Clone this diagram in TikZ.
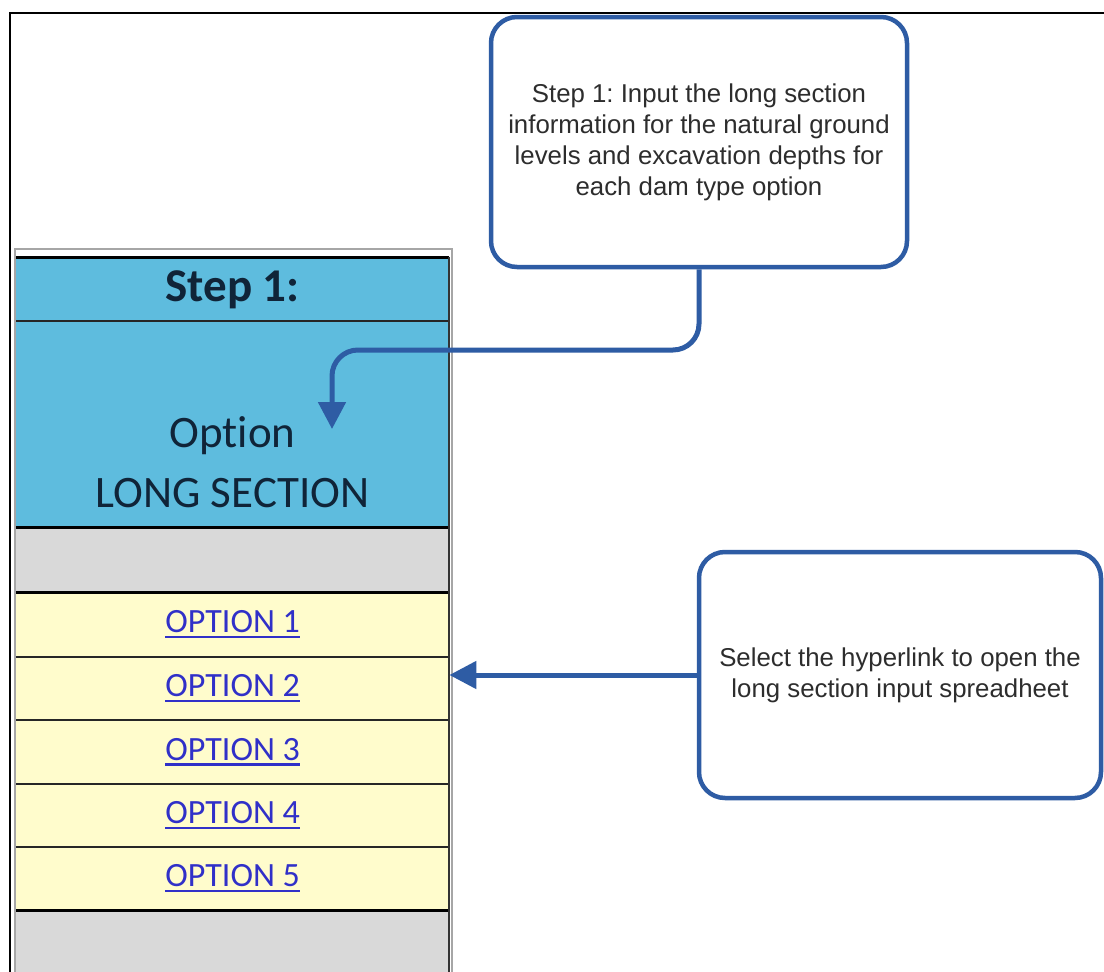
\documentclass[tikz,border=0pt]{standalone}
\usepackage{fontspec}
\setmainfont{Carlito}[Ligatures=NoCommon]
\newfontfamily\arialf{Liberation Sans}
\usetikzlibrary{arrows.meta}
\definecolor{cellblue}{RGB}{94,188,222}
\definecolor{cellgray}{RGB}{217,217,217}
\definecolor{cellyellow}{RGB}{255,252,204}
\definecolor{calloutblue}{RGB}{46,92,164}
\definecolor{linkblue}{RGB}{48,48,200}
\definecolor{celltext}{RGB}{16,36,56}
\definecolor{callouttext}{RGB}{45,45,45}
\frenchspacing
\newcommand{\myhl}[1]{{\setbox0\hbox{#1}\rlap{\color{linkblue}\vrule height -3pt depth 5.5pt width \wd0}\box0}}
\tikzset{
  cell/.style={rectangle, inner sep=0pt, draw=none, minimum width=433, anchor=north west},
  linktext/.style={text=linkblue, font=\fontsize{34}{40}\selectfont},
  callout/.style={rectangle, rounded corners=26, draw=calloutblue, line width=4.5, fill=white,
    text=callouttext, align=center, font=\arialf\fontsize{25.8}{31}\selectfont, inner sep=0pt},
  conn/.style={draw=calloutblue, line width=5, -{Triangle[length=27, width=27]}},
  thickrule/.style={line width=3, black},
  thinrule/.style={line width=1.6, black!85},
}
\begin{document}
\begin{tikzpicture}[x=1pt,y=-1pt]
\useasboundingbox (0,0) rectangle (1104,972);
\fill[white] (0,0) rectangle (1104,972);
% outer frame
\draw[line width=2.5, black] (1104,13) -- (10,13) -- (10,972);
% table background border (gray)
\draw[line width=1.5, black!35] (15,972) -- (15,249) -- (452,249) -- (452,972);
% cells
\node[cell, fill=cellblue, minimum height=64] (hdr) at (16,257) {};
\node[cell, fill=cellblue, minimum height=206] (opt) at (16,321) {};
\node[cell, fill=cellgray, minimum height=65] (g1) at (16,527) {};
\node[cell, fill=cellyellow, minimum height=65] (o1) at (16,592) {};
\node[cell, fill=cellyellow, minimum height=63] (o2) at (16,657) {};
\node[cell, fill=cellyellow, minimum height=64] (o3) at (16,720) {};
\node[cell, fill=cellyellow, minimum height=63] (o4) at (16,784) {};
\node[cell, fill=cellyellow, minimum height=63] (o5) at (16,847) {};
\node[cell, fill=cellgray, minimum height=62] (g2) at (16,910) {};
% rules
\draw[thickrule] (16,257) -- (449,257);
\draw[thinrule] (16,321) -- (449,321);
\draw[thickrule] (16,527) -- (449,527);
\draw[thickrule] (16,592) -- (449,592);
\draw[thinrule] (16,657) -- (449,657);
\draw[thinrule] (16,720) -- (449,720);
\draw[thinrule] (16,784) -- (449,784);
\draw[thinrule] (16,847) -- (449,847);
\draw[thickrule] (16,910) -- (449,910);
\draw[line width=2, black!80] (448.5,257) -- (448.5,972);
% cell texts
\node[text=celltext, font=\bfseries\fontsize{47}{50}\selectfont] (hdrt) at (232.5,290) {Step 1:};
\node[text=celltext, align=center, font=\fontsize{45}{60}\selectfont] (optt) at (232.5,462) {Option\\LONG SECTION};
\node[linktext] (o1t) at (o1.center) {\myhl{OPTION 1}};
\node[linktext] (o2t) at (o2.center) {\myhl{OPTION 2}};
\node[linktext] (o3t) at (o3.center) {\myhl{OPTION 3}};
\node[linktext] (o4t) at (o4.center) {\myhl{OPTION 4}};
\node[linktext] (o5t) at (o5.center) {\myhl{OPTION 5}};
% callouts
\node[callout, minimum width=416, minimum height=250] (b1) at (699,142)
  {Step 1: Input the long section\\information for the natural ground\\levels and excavation depths for\\each dam type option};
\node[callout, minimum width=402, minimum height=246] (b2) at (900,675)
  {Select the hyperlink to open the\\long section input spreadheet};
% connectors
\coordinate (t1) at (332,429);
\draw[conn, rounded corners=26] (b1.south) |- (332,350) -- (t1);
\draw[conn] (b2.west) -- (b2.west -| o2.east);
\end{tikzpicture}
\end{document}
